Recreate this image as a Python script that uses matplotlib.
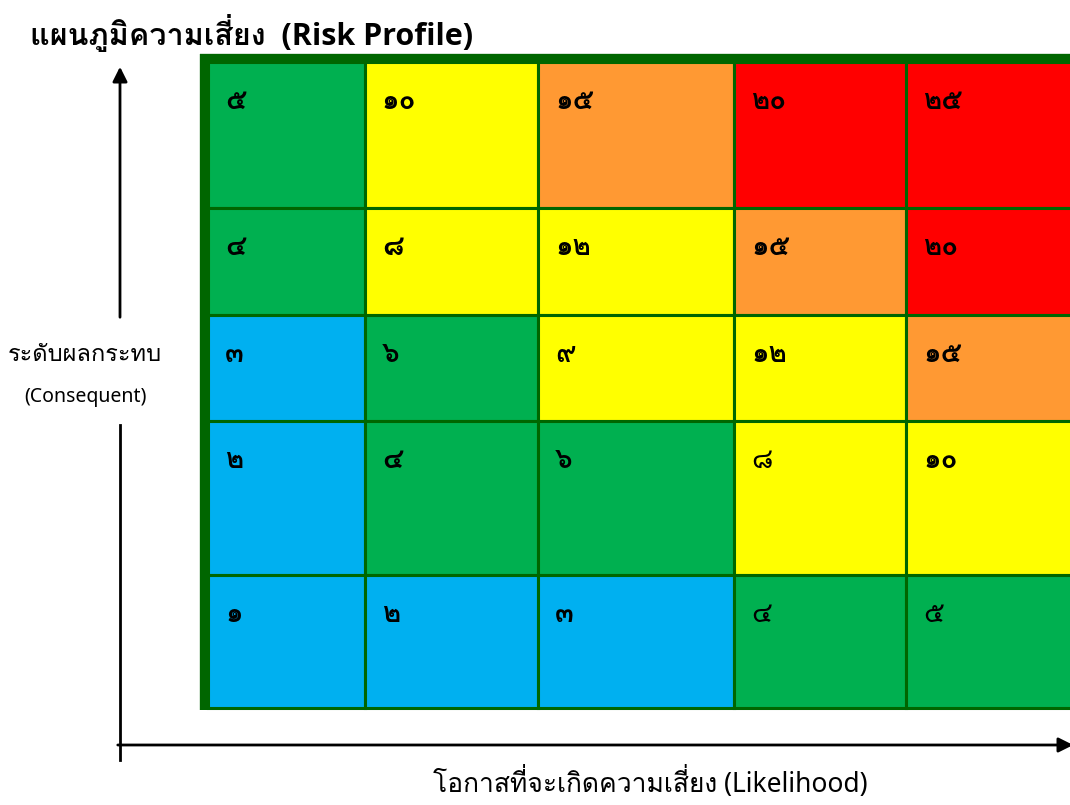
import matplotlib
matplotlib.use("Agg")
import matplotlib.pyplot as plt
from matplotlib import font_manager
from matplotlib.ft2font import FT2Font
from matplotlib.patches import Rectangle

# ข้อมูลของตาราง (แถวบนสุด = ผลกระทบ 5)
scores = [
    ["๕", "๑๐", "๑๕", "๒๐", "๒๕"],
    ["๔", "๘", "๑๒", "๑๕", "๒๐"],
    ["๓", "๖", "๙", "๑๒", "๑๕"],
    ["๒", "๔", "๖", "๘", "๑๐"],
    ["๑", "๒", "๓", "๔", "๕"],
]
levels = [
    ["G", "Y", "O", "R", "R"],
    ["G", "Y", "Y", "O", "R"],
    ["B", "G", "Y", "Y", "O"],
    ["B", "G", "G", "Y", "Y"],
    ["B", "B", "B", "G", "G"],
]
# ตัวเลขที่เป็นตัวบาง
thin_cells = [(3, 3), (4, 3), (4, 4)]

title = "แผนภูมิความเสี่ยง  (Risk Profile)"
ylabel = "ระดับผลกระทบ"
ylabel2 = "(Consequent)"
xlabel = "โอกาสที่จะเกิดความเสี่ยง (Likelihood)"

level_colors = {"G": "#00B050", "Y": "#FFFF00", "O": "#FF9933",
                "R": "#FF0000", "B": "#00B0F0"}
border = "#006600"

# ขอบของช่อง (พิกเซล)
x_edges = [208, 365, 538, 734, 906, 1080]
y_edges = [62, 208, 315, 421, 575, 708]


def find_thai_font():
    """ หา font ที่มีตัวอักษรไทย """
    good = []
    for f in font_manager.fontManager.ttflist:
        try:
            cmap = FT2Font(f.fname).get_charmap()
        except Exception:
            continue
        if 0x0E01 in cmap and 0x0E51 in cmap:
            good.append(f.name)
    return list(dict.fromkeys(good))


def latin_with_bold():
    """ font ละตินที่มีตัวหนา """
    for name in ["Open Sans", "Noto Sans", "Lato"]:
        for f in font_manager.fontManager.ttflist:
            if f.name == name and f.weight in (700, "bold") and f.style == "normal":
                return name
    return "DejaVu Sans"


thai = find_thai_font()
latin = latin_with_bold()
plt.rcParams["font.family"] = ["Noto Sans"] + thai + ["DejaVu Sans"]
title_family = [latin] + thai + ["DejaVu Sans"]

fig = plt.figure(figsize=(10.7, 8.05), dpi=100)
ax = fig.add_axes([0, 0, 1, 1])
ax.set_xlim(0, 1070)
ax.set_ylim(805, 0)
ax.axis("off")

for r in range(5):
    for c in range(5):
        x0, x1 = x_edges[c], x_edges[c + 1]
        y0, y1 = y_edges[r], y_edges[r + 1]
        ax.add_patch(Rectangle((x0, y0), x1 - x0, y1 - y0,
                               facecolor=level_colors[levels[r][c]],
                               edgecolor=border, linewidth=2.2))
        w = "normal" if (r, c) in thin_cells else "bold"
        ax.text(x0 + 17, y0 + 40, scores[r][c], fontsize=20, fontweight=w,
                ha="left", va="center", color="black")

# ขอบหนาด้านซ้ายและด้านบน
ax.plot([204, 204], [54, 710], color=border, lw=6, solid_capstyle="butt")
ax.plot([200, 1075], [58, 58], color=border, lw=6, solid_capstyle="butt")

# ลูกศรแกน
ax.plot([120, 120], [760, 425], color="black", lw=2)
ax.annotate("", xy=(120, 64), xytext=(120, 320), annotation_clip=False,
            arrowprops=dict(arrowstyle="-|>", color="black", lw=2,
                            mutation_scale=22))
ax.annotate("", xy=(1076, 745), xytext=(115, 745), annotation_clip=False,
            arrowprops=dict(arrowstyle="-|>", color="black", lw=2,
                            mutation_scale=22))

ax.text(30, 33, title, fontsize=22, fontweight="bold", ha="left", va="center",
        family=title_family)
ax.text(85, 355, ylabel, fontsize=17, ha="center", va="center")
ax.text(85, 397, ylabel2, fontsize=14, ha="center", va="center")
ax.text(650, 783, xlabel, fontsize=19, ha="center", va="center")

fig.savefig("out.png", dpi=100)
